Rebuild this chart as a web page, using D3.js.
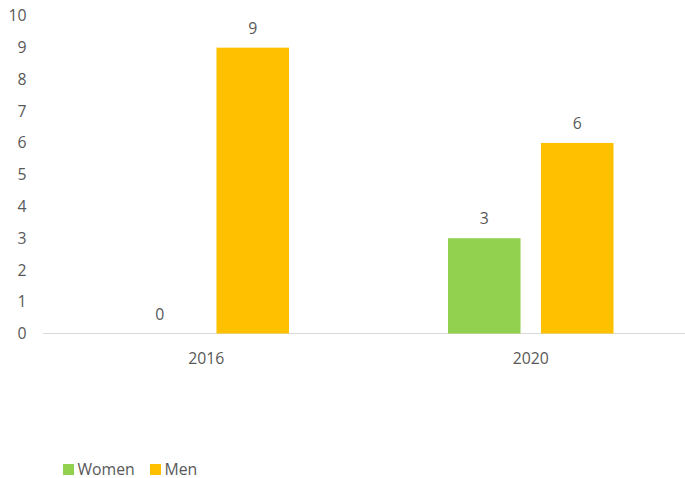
<!DOCTYPE html>
<html><head><meta charset="utf-8">
<script src="https://cdn.jsdelivr.net/npm/d3@7"></script>
<style>body{margin:0;background:#fff}svg{display:block}text{font-family:"Open Sans","Liberation Sans",sans-serif;fill:#595959}</style>
</head><body>
<script>
const categories = ["2016", "2020"];
const seriesNames = ["Women", "Men"];
const women = [0, 3];
const men = [9, 6];
const yTicks = [0,1,2,3,4,5,6,7,8,9,10];
const colors = ["#92d050", "#ffc000"];

const W = 685, H = 478;
const FS = "15.8px";
const svg = d3.select("body").append("svg").attr("width", W).attr("height", H);
const y = d3.scaleLinear().domain([0, 10]).range([333.5, 15.9]);
const x0 = d3.scaleBand().domain(categories).range([44, 693]).paddingInner(0).paddingOuter(0);
const x1 = d3.scaleBand().domain(seriesNames).range([79.5, 324.5-79.5]).paddingInner(0.22);

const data = categories.map((c, i) => ({cat: c, vals: [women[i], men[i]]}));

// y labels
svg.append("g").selectAll("text").data(yTicks).join("text")
  .attr("x", 26.5).attr("y", d => y(d)).attr("dy", "0.35em")
  .attr("text-anchor", "end").style("font-size", FS).text(d => d);

// axis line
svg.append("line").attr("x1", 43).attr("x2", 693).attr("y1", y(0)).attr("y2", y(0))
  .attr("stroke", "#d9d9d9").attr("stroke-width", 1);

const g = svg.append("g").selectAll("g").data(data).join("g")
  .attr("transform", d => `translate(${x0(d.cat)},0)`);
g.selectAll("rect").data(d => d.vals.map((v, j) => ({k: seriesNames[j], v, j}))).join("rect")
  .attr("x", d => x1(d.k)).attr("width", x1.bandwidth())
  .attr("y", d => y(d.v)).attr("height", d => y(0) - y(d.v))
  .attr("fill", d => colors[d.j]);
g.selectAll("text.lbl").data(d => d.vals.map((v, j) => ({k: seriesNames[j], v, j}))).join("text")
  .attr("class", "lbl")
  .attr("x", d => x1(d.k) + x1.bandwidth()/2).attr("y", d => y(d.v) - 14)
  .attr("text-anchor", "middle").style("font-size", FS).text(d => d.v);

// category labels
svg.append("g").selectAll("text").data(categories).join("text")
  .attr("x", d => x0(d) + x0.bandwidth()/2).attr("y", 364)
  .attr("text-anchor", "middle").style("font-size", FS).text(d => d);

// legend
const legX = [63, 150];
const lg = svg.append("g").selectAll("g").data(seriesNames).join("g")
  .attr("transform", (d, i) => `translate(${legX[i]},464)`);
lg.append("rect").attr("width", 11).attr("height", 11).attr("fill", (d, i) => colors[i]);
lg.append("text").attr("x", 14.5).attr("y", 5.5).attr("dy", "0.35em").style("font-size", FS).text(d => d);
</script>
</body></html>
